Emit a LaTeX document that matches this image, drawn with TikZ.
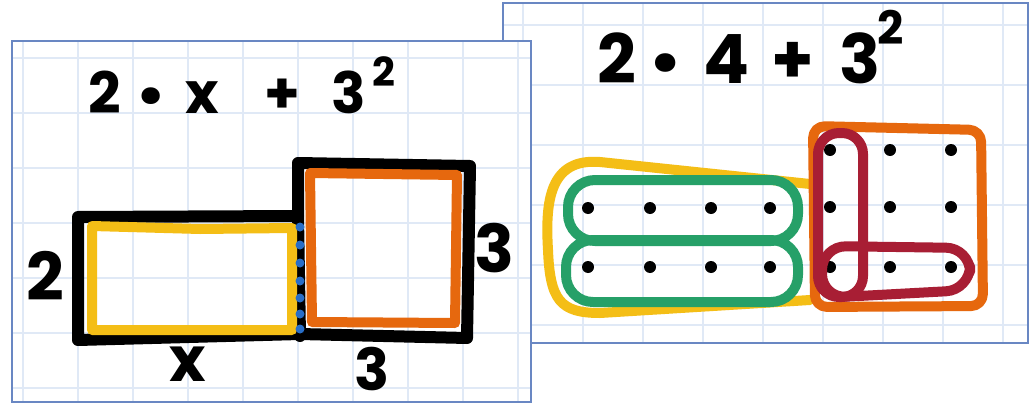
\documentclass[tikz,border=0pt]{standalone}
\usepackage{fontspec}
\newfontfamily\handfont{Poppins}
\definecolor{cardblue}{RGB}{105,135,195}
\definecolor{gridblue}{RGB}{224,233,246}
\definecolor{penyellow}{RGB}{244,190,22}
\definecolor{penorange}{RGB}{230,104,14}
\definecolor{pengreen}{RGB}{38,160,104}
\definecolor{penred}{RGB}{168,30,52}
\definecolor{penblue}{RGB}{40,110,200}
\tikzset{
  card/.style={draw=cardblue, line width=1.5pt},
  gridline/.style={gridblue, line width=1.3pt},
  pen/.style={line width=12pt, line join=round, line cap=round},
  marker/.style={line width=10pt, line join=round, line cap=round},
  hand/.style={font=\handfont\bfseries\fontsize{#1}{#1}\selectfont, inner sep=0pt, anchor=base},
}
\begin{document}
\begin{tikzpicture}[x=1pt, y=-1pt]
  \useasboundingbox[fill=white] (0,0) rectangle (1030,404);

  % right card: 2 * 4 + 3^2
  \fill[white] (503,3) rectangle (1028,343);
  \begin{scope}
    \clip (503,3) rectangle (1028,343);
    \foreach \gx in {523,583,...,1003} \draw[gridline] (\gx,3) -- (\gx,343);
    \foreach \gy in {25,85,...,325} \draw[gridline] (503,\gy) -- (1028,\gy);
  \end{scope}
  \draw[card] (503,3) rectangle (1028,343);

  \foreach \px/\glyph [count=\i] in {617/2, 727/4, 793/+, 860/3}
    \node[hand=68] (rt\i) at (\px,83) {\glyph};
  \node[hand=100] (rtdot) at (665,94) {·};
  \node[hand=46] (rtsup) at (891,45) {2};

  \draw[marker, penyellow] (810,184) -- (600,162)
    .. controls (550,158) and (545,200) .. (548,250)
    .. controls (550,300) and (560,313) .. (600,313) -- (810,300);
  \foreach \dx in {588,650,711,770}
    \foreach \dy in {208,267} \fill (\dx,\dy) circle (6pt);
  \draw[marker, pengreen, rounded corners=27pt] (568,180) rectangle (798,241);
  \draw[marker, pengreen, rounded corners=27pt] (566,240) rectangle (798,302);

  \draw[marker, penorange, rounded corners=12pt] (813,126) -- (981,130) -- (983,306) -- (815,307) -- cycle;
  \foreach \dx in {830,890,951}
    \foreach \dy in {150,207,267} \fill (\dx,\dy) circle (6pt);
  \draw[marker, penred, rounded corners=21pt] (818,133) rectangle (863,297);
  \draw[marker, penred, rounded corners=24pt] (822,246) -- (970,248) -- (970,290) -- (822,298) -- cycle;

  % left card: 2 * x + 3^2
  \fill[white] (12,41) rectangle (531,402);
  \begin{scope}
    \clip (12,41) rectangle (531,402);
    \foreach \gx in {23,78,...,518} \draw[gridline] (\gx,41) -- (\gx,402);
    \foreach \gy in {58,113,...,388} \draw[gridline] (12,\gy) -- (531,\gy);
  \end{scope}
  \draw[card] (12,41) rectangle (531,402);

  \foreach \px/\glyph [count=\i] in {105/2, 202/x, 282/+, 349/3}
    \node[hand=57] (lt\i) at (\px,113) {\glyph};
  \node[hand=90] (ltdot) at (151,124) {·};
  \node[hand=40] (ltsup) at (384,86) {2};

  \draw[pen] (78,217) -- (298,216) -- (298,163) -- (470,166) -- (467,338)
    -- (300,334) -- (78,340) -- cycle;
  \draw[pen] (298,216) -- (300,336);
  \draw[marker, penyellow] (92,226) -- (200,229) -- (292,228) -- (292,330) -- (92,330) -- cycle;
  \draw[marker, penorange] (310,173) -- (457,175) -- (455,323) -- (312,322) -- cycle;
  \foreach \dy in {227,245,263,281,298,314,329}
    \fill[penblue] (300,\dy) circle (4.5pt);

  \node[hand=66] (sidetwo) at (45,300) {2};
  \node[hand=62] (basex) at (188,381) {x};
  \node[hand=58] (basethree) at (372,390) {3};
  \node[hand=66] (sidethree) at (494,272) {3};
\end{tikzpicture}
\end{document}
